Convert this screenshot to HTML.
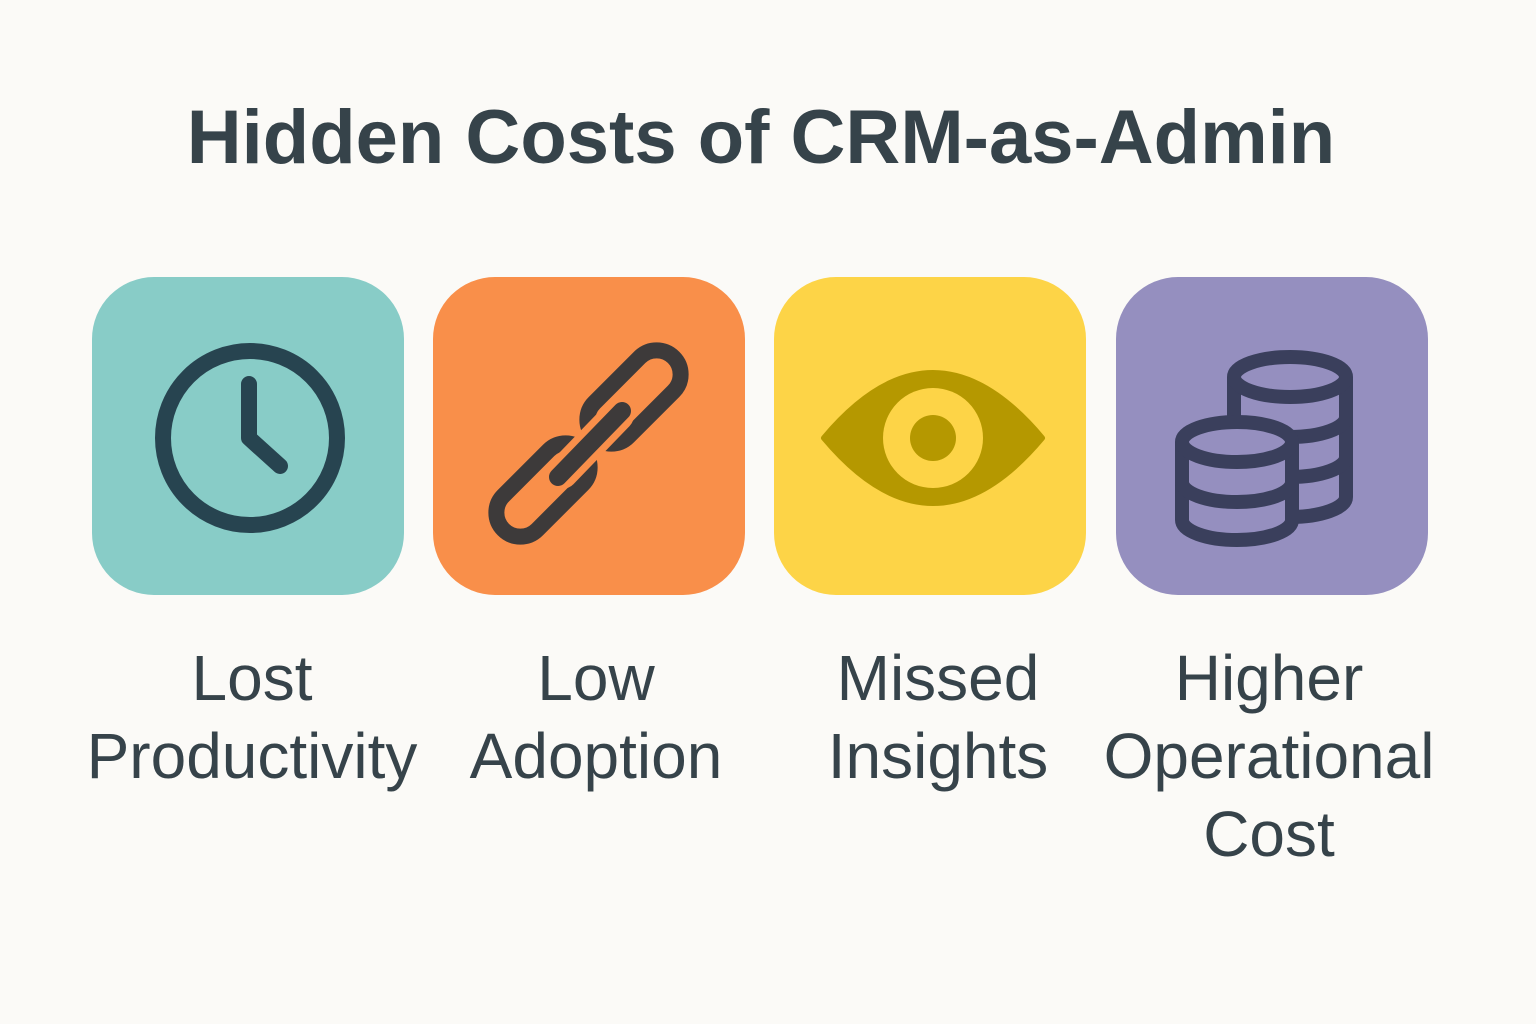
<!DOCTYPE html>
<html><head><meta charset="utf-8"><style>
html,body{margin:0;padding:0;background:#fbfaf7;}
body{width:1536px;height:1024px;position:relative;overflow:hidden;font-family:"Liberation Sans",sans-serif;color:#36434a;}
.t{position:absolute;left:-7px;width:1536px;top:94px;text-align:center;font-size:76px;font-weight:bold;}
.b{position:absolute;top:277px;width:312px;height:318px;border-radius:62px;}
.l{position:absolute;top:639px;width:400px;text-align:center;font-size:64px;line-height:78px;white-space:nowrap;}
</style></head><body>
<div class="t">Hidden Costs of CRM-as-Admin</div>
<div class="b" style="left:92px;background:#88ccc7"></div>
<div class="b" style="left:433px;background:#f98f4a"></div>
<div class="b" style="left:774px;background:#fdd447"></div>
<div class="b" style="left:1116px;background:#958fbf"></div>
<svg width="1536" height="1024" style="position:absolute;left:0;top:0">
<g fill="none" stroke="#274450" stroke-width="16" stroke-linecap="round" stroke-linejoin="round">
<circle cx="250" cy="438" r="87"/>
<polyline points="249,384 249,438 280,466"/>
</g>
<g fill="none" stroke="#3d3a3a" stroke-width="16" stroke-linecap="round">
<rect x="-24" y="-56" width="48" height="112" rx="24" transform="translate(634,397) rotate(45)"/>
<rect x="-24" y="-56" width="48" height="112" rx="24" transform="translate(543,490) rotate(45)"/>
<line x1="562" y1="473" x2="618" y2="415" stroke="#f98f4a" stroke-width="32"/>
<line x1="558" y1="477" x2="622" y2="411" stroke-width="18"/>
</g>
<path d="M824,438 Q933,308 1042,438 Q933,568 824,438 Z" fill="#b59800" stroke="#b59800" stroke-width="6" stroke-linejoin="round"/>
<circle cx="933" cy="438" r="50" fill="#fdd447"/>
<circle cx="933" cy="438" r="23" fill="#b59800"/>
<g fill="#958fbf" stroke="#3a3f5c" stroke-width="14">
<path d="M1234,377 V497 A56 20 0 0 0 1346,497 V377"/>
<path d="M1234,417 A56 20 0 0 0 1346,417 M1234,457 A56 20 0 0 0 1346,457" fill="none"/>
<ellipse cx="1290" cy="377" rx="56" ry="20"/>
<path d="M1182,442 V520 A55 20 0 0 0 1292,520 V442"/>
<path d="M1182,482 A55 20 0 0 0 1292,482 " fill="none"/>
<ellipse cx="1237" cy="442" rx="55" ry="20"/>
</g>
</svg>
<div class="l" style="left:52px">Lost<br>Productivity</div>
<div class="l" style="left:396px">Low<br>Adoption</div>
<div class="l" style="left:738px">Missed<br>Insights</div>
<div class="l" style="left:1069px">Higher<br>Operational<br>Cost</div>
</body></html>
